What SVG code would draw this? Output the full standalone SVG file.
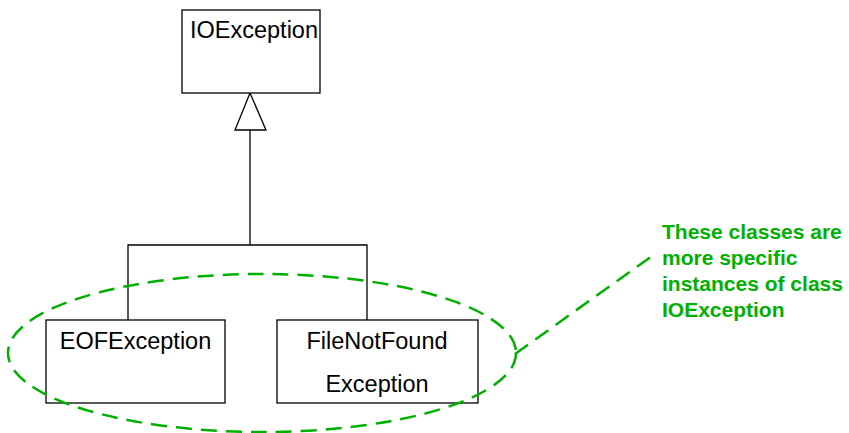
<svg xmlns="http://www.w3.org/2000/svg" width="849" height="433" viewBox="0 0 849 433">
<style>
.box{fill:#fff;stroke:#000;stroke-width:1.3}
.lbl{font-family:"Liberation Sans",Arial,sans-serif;font-size:23.5px;fill:#000}
.con{fill:none;stroke:#000;stroke-width:1.3}
.note{font-family:"Liberation Sans",Arial,sans-serif;font-size:21px;font-weight:bold;fill:#00b000}
.dash{fill:none;stroke:#00b000;stroke-width:2.5;stroke-dasharray:16 9}
</style>
<rect width="849" height="433" fill="#fff"/>
<g id="connectors">
<polyline class="con" points="250,130 250,245"/>
<polyline class="con" points="128,320 128,245 367,245 367,320"/>
<polygon class="con" points="250,93 235,130 266,130" fill="#fff"/>
</g>
<g id="IOException">
<rect class="box" x="182" y="10" width="138" height="83"/>
<text class="lbl" x="190" y="38">IOException</text>
</g>
<g id="EOFException">
<rect class="box" x="46" y="320" width="179" height="83"/>
<text class="lbl" x="135.5" y="349" text-anchor="middle">EOFException</text>
</g>
<g id="FileNotFoundException">
<rect class="box" x="277" y="320" width="201" height="83"/>
<text class="lbl" x="377" y="349" text-anchor="middle">FileNotFound</text>
<text class="lbl" x="377" y="392" text-anchor="middle">Exception</text>
</g>
<g id="group-outline">
<ellipse class="dash" cx="262" cy="353" rx="254" ry="79"/>
<line class="dash" x1="515" y1="354" x2="652" y2="256"/>
</g>
<g id="note">
<text class="note" x="662" y="239">These classes are</text>
<text class="note" x="662" y="265">more specific</text>
<text class="note" x="662" y="291">instances of class</text>
<text class="note" x="662" y="317">IOException</text>
</g>
</svg>
